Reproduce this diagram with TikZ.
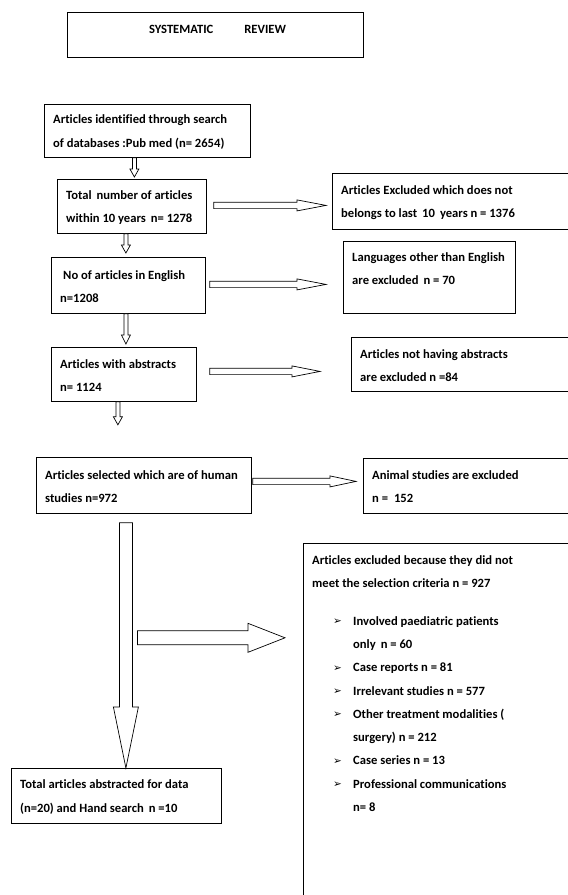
\documentclass[tikz,border=0pt]{standalone}
\usepackage{fontspec}
\setmainfont{Carlito}[Ligatures=NoCommon]
\newfontfamily\symfont{DejaVu Sans}
\usepackage{tikz}
\usetikzlibrary{calc,positioning}

% hollow block arrows: from, to, half shaft, half head, head length
\newcommand{\rightblock}[5]{%
  \draw[hollow] ($(#1)+(0,#3)$) -- ($(#2)+(-#5,#3)$) -- ($(#2)+(-#5,#4)$) -- (#2)
    -- ($(#2)+(-#5,-#4)$) -- ($(#2)+(-#5,-#3)$) -- ($(#1)+(0,-#3)$) -- cycle;}
\newcommand{\downblock}[5]{%
  \draw[hollow] ($(#1)+(-#3,0)$) -- ($(#2)+(-#3,-#5)$) -- ($(#2)+(-#4,-#5)$) -- (#2)
    -- ($(#2)+(#4,-#5)$) -- ($(#2)+(#3,-#5)$) -- ($(#1)+(#3,0)$) -- cycle;}
\newcommand{\bul}{\makebox[20pt][l]{\raisebox{0.5pt}{\symfont\fontsize{10.5}{10}\selectfont ➢}}}

\begin{document}
\begin{tikzpicture}[
    x=1pt, y=-1pt,
    every node/.style={font=\fontsize{12.6}{23.3}\selectfont\bfseries},
    box/.style={draw, line width=0.8pt, anchor=north west, inner sep=0pt},
    txt/.style={anchor=west, inner sep=0pt, align=left},
    hollow/.style={draw, line width=0.7pt, fill=white, line join=miter}
  ]
  \useasboundingbox (0,0) rectangle (568,895);
  \clip (0,0) rectangle (568,895);

  % title
  \node[box, minimum width=296pt, minimum height=45pt] (ttl) at (67,12) {};
  \node[txt, anchor=center] (ttlt) at (217.5,29.5) {SYSTEMATIC\hspace{31pt}REVIEW};

  % main column
  \node[box, minimum width=206pt, minimum height=53pt] (srch) at (44,104) {};
  \node[txt] (srcht) at ([xshift=9pt,yshift=-1pt]srch.west) {Articles identified through search\\of databases :Pub med (n= 2654)};
  \node[box, minimum width=149pt, minimum height=54pt] (tot) at (57,179) {};
  \node[txt] (tott) at ([xshift=9pt,yshift=-1pt]tot.west) {Total\hspace{5pt}number of articles\\within 10 years\hspace{5pt}n= 1278};
  \node[box, minimum width=154pt, minimum height=56pt] (eng) at (51,257) {};
  \node[txt] (engt) at ([xshift=9pt,yshift=-1pt]eng.west) {\hspace*{3pt}No of articles in English\\n=1208};
  \node[box, minimum width=145pt, minimum height=54pt] (abs) at (51,347) {};
  \node[txt] (abst) at ([xshift=9pt,yshift=-1pt]abs.west) {Articles with abstracts\\n= 1124};
  \node[box, minimum width=215pt, minimum height=56pt] (hum) at (36,457) {};
  \node[txt] (humt) at ([xshift=9pt,yshift=-1pt]hum.west) {Articles selected which are of human\\studies n=972};
  \node[box, minimum width=210pt, minimum height=55pt] (fin) at (11,768) {};
  \node[txt] (fint) at ([xshift=9pt,yshift=-1pt]fin.west) {Total articles abstracted for data\\(n=20) and Hand search\hspace{5pt}n =10};

  % excluded
  \node[box, minimum width=243pt, minimum height=56pt] (ex1) at (332,173) {};
  \node[txt] (ex1t) at ([xshift=9pt,yshift=-1pt]ex1.west) {Articles Excluded which does not\\belongs to last\hspace{5pt}10\hspace{5pt}years n = 1376};
  \node[box, minimum width=172pt, minimum height=72pt] (ex2) at (343,241) {};
  \node[txt, anchor=north west] (ex2t) at (352,252.5) {Languages other than English\\are excluded\hspace{5pt}n = 70};
  \node[box, minimum width=225pt, minimum height=54pt] (ex3) at (351,337) {};
  \node[txt] (ex3t) at ([xshift=9pt,yshift=-1pt]ex3.west) {Articles not having abstracts\\are excluded n =84};
  \node[box, minimum width=215pt, minimum height=55pt] (ex4) at (363,458) {};
  \node[txt] (ex4t) at ([xshift=9pt,yshift=-1pt]ex4.west) {Animal studies are excluded\\n =\hspace{6pt}152};
  \node[box, minimum width=280pt, minimum height=370pt] (ex5) at (303,543) {};
  \node[txt, anchor=north west] (ex5t) at (312,555.5) {Articles excluded because they did not\\
    meet the selection criteria n = 927\\[14pt]
    \hspace*{21pt}\bul Involved paediatric patients\\
    \hspace*{41pt}only\hspace{5pt}n = 60\\
    \hspace*{21pt}\bul Case reports n = 81\\
    \hspace*{21pt}\bul Irrelevant studies n = 577\\
    \hspace*{21pt}\bul Other treatment modalities (\\
    \hspace*{41pt}surgery) n = 212\\
    \hspace*{21pt}\bul Case series n = 13\\
    \hspace*{21pt}\bul Professional communications\\
    \hspace*{41pt}n= 8};

  % down arrows
  \coordinate (d1a) at ($(srch.south)+(-13,0)$);
  \coordinate (d1b) at ($(d1a |- tot.north)+(0,-2)$);
  \coordinate (d2a) at ($(tot.south)+(-6,0)$);
  \coordinate (d2b) at ($(d2a |- eng.north)+(0,-4)$);
  \coordinate (d3a) at ($(eng.south)+(-2.5,0)$);
  \coordinate (d3b) at ($(d3a |- abs.north)+(0,-3)$);
  \coordinate (d4a) at ($(abs.south)+(-6,0)$);
  \coordinate (d4b) at ($(d4a)+(0,23)$);
  \coordinate (d5a) at ($(hum.south)+(-18,9)$);
  \coordinate (d5b) at (d5a |- fin.north);
  \downblock{d1a}{d1b}{2}{4.5}{8}
  \downblock{d2a}{d2b}{2}{4.5}{8}
  \downblock{d3a}{d3b}{2}{4.5}{9}
  \downblock{d4a}{d4b}{2}{4.5}{8}
  \downblock{d5a}{d5b}{6.5}{12.5}{61}

  % right arrows
  \coordinate (r2a) at ($(tot.east)+(7,-1)$);
  \coordinate (r2b) at ($(r2a -| ex1.west)+(-6,0)$);
  \coordinate (r3a) at ($(eng.east)+(4,-1)$);
  \coordinate (r3b) at ($(r3a -| ex2.west)+(-17,0)$);
  \coordinate (r4a) at ($(abs.east)+(13,-3)$);
  \coordinate (r4b) at ($(r4a -| ex3.west)+(-31,0)$);
  \coordinate (r5a) at ($(hum.east)+(1,-4)$);
  \coordinate (r5b) at ($(r5a -| ex4.west)+(-7,0)$);
  \coordinate (r6a) at ($(d5a)+(11.5,115)$);
  \coordinate (r6b) at ($(r6a -| ex5.west)+(-18,0)$);
  \rightblock{r2a}{r2b}{3.2}{5.5}{29}
  \rightblock{r3a}{r3b}{3.2}{5.5}{29}
  \rightblock{r4a}{r4b}{3.2}{5.5}{28}
  \rightblock{r5a}{r5b}{3.2}{5.5}{26}
  \rightblock{r6a}{r6b}{7}{14.5}{37}
\end{tikzpicture}
\end{document}
